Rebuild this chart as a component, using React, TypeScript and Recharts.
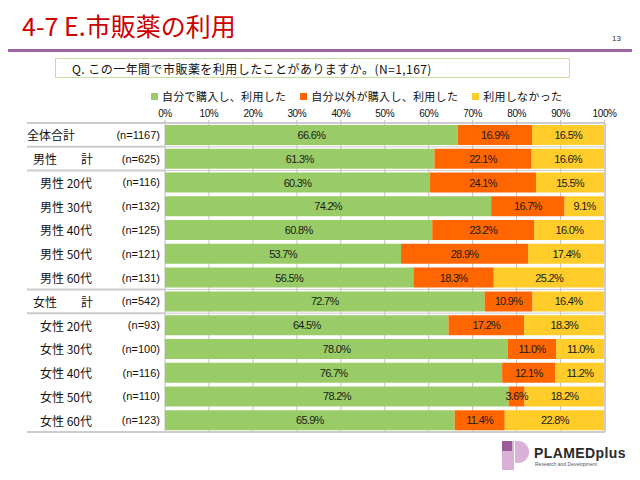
import { BarChart, Bar, XAxis, YAxis, CartesianGrid, LabelList } from 'recharts'

// ── data ──
const categories = [
  '全体合計',
  '男性　　計',
  '男性 20代',
  '男性 30代',
  '男性 40代',
  '男性 50代',
  '男性 60代',
  '女性　　計',
  '女性 20代',
  '女性 30代',
  '女性 40代',
  '女性 50代',
  '女性 60代',
]
const sampleSizes = [1167, 625, 116, 132, 125, 121, 131, 542, 93, 100, 116, 110, 123]
const selfBought = [66.6, 61.3, 60.3, 74.2, 60.8, 53.7, 56.5, 72.7, 64.5, 78.0, 76.7, 78.2, 65.9]
const otherBought = [16.9, 22.1, 24.1, 16.7, 23.2, 28.9, 18.3, 10.9, 17.2, 11.0, 12.1, 3.6, 11.4]
const notUsed = [16.5, 16.6, 15.5, 9.1, 16.0, 17.4, 25.2, 16.4, 18.3, 11.0, 11.2, 18.2, 22.8]
const seriesNames = ['自分で購入し、利用した', '自分以外が購入し、利用した', '利用しなかった']
const percentTicks = [0, 10, 20, 30, 40, 50, 60, 70, 80, 90, 100]

const COLORS = ['#99cc66', '#ff6600', '#ffcc29']
const FRAME = '#cccccc'
const GRID = '#bfbfbf'
const JP = '"Noto Sans CJK JP", "Noto Sans", sans-serif'
const LAT = '"Liberation Sans", Arial, sans-serif'

// layout
const PLOT_TOP = 123
const PLOT_BOTTOM = 432
const PLOT_LEFT = 165
const PLOT_RIGHT = 605
const LABEL_LEFT = 27
const BAND = (PLOT_BOTTOM - PLOT_TOP) / categories.length

const rows = categories.map((name, i) => ({
  name,
  self: selfBought[i],
  other: otherBought[i],
  none: notUsed[i],
}))

function rowKind(name: string) {
  if (name === '全体合計') return 'total'
  if (name.endsWith('計')) return 'subtotal'
  return 'age'
}

function RowTick(props: any) {
  const { y, payload } = props
  const name = payload.value as string
  const i = categories.indexOf(name)
  const kind = rowKind(name)
  const next = categories[i + 1]
  const last = i === categories.length - 1
  const sepBelow = kind !== 'age' || last || (next && rowKind(next) === 'subtotal')
  const nameX = kind === 'total' ? LABEL_LEFT : kind === 'subtotal' ? 33 : 40
  return (
    <g>
      {i === 0 && (
        <line x1={LABEL_LEFT} x2={PLOT_LEFT} y1={y - BAND / 2} y2={y - BAND / 2} stroke={FRAME} strokeWidth={2} />
      )}
      <text x={nameX} y={y} dominantBaseline="central" fontSize={12} fill="#111" style={{ fontFamily: JP }}>
        {name}
      </text>
      <text x={160} y={y} textAnchor="end" dominantBaseline="central" fontSize={11} fill="#111" style={{ fontFamily: LAT }}>
        (n={sampleSizes[i]})
      </text>
      {sepBelow && !last && (
        <line x1={PLOT_LEFT} x2={PLOT_RIGHT} y1={y + BAND / 2} y2={y + BAND / 2} stroke={FRAME} strokeWidth={1} />
      )}
      {sepBelow && (
        <line
          x1={LABEL_LEFT}
          x2={last ? PLOT_RIGHT : PLOT_LEFT}
          y1={y + BAND / 2}
          y2={y + BAND / 2}
          stroke={FRAME}
          strokeWidth={2}
        />
      )}
    </g>
  )
}

function renderValue(props: any) {
  const { x, y, width, height, value } = props
  return (
    <text
      x={Number(x) + Number(width) / 2}
      y={Number(y) + Number(height) / 2}
      textAnchor="middle"
      dominantBaseline="central"
      fontSize={11}
      fill="#1a1a1a"
      style={{ fontFamily: LAT, letterSpacing: '-0.7px' }}
    >
      {Number(value).toFixed(1)}%
    </text>
  )
}

function Logo() {
  return (
    <div style={{ position: 'absolute', left: 502, top: 441 }}>
      <svg width={30} height={31} style={{ position: 'absolute', left: 0, top: 0 }}>
        <rect x={0} y={0} width={12} height={29} fill="#d9b0d6" />
        <path d="M13 0 H16 A11 11 0 0 1 16 22 H13 Z" fill="#d9b0d6" />
        <rect x={0} y={0} width={10} height={10} fill="#9c5a9c" />
      </svg>
      <div
        style={{
          position: 'absolute',
          left: 32,
          top: 5,
          fontFamily: LAT,
          fontWeight: 700,
          fontSize: 14,
          letterSpacing: '0.4px',
          color: '#2a2a2a',
          lineHeight: 1,
          whiteSpace: 'nowrap',
        }}
      >
        PLAMEDplus
      </div>
      <div
        style={{
          position: 'absolute',
          left: 33,
          top: 21,
          fontFamily: LAT,
          fontSize: 5,
          color: '#555',
          lineHeight: 1,
          whiteSpace: 'nowrap',
        }}
      >
        Research and Development
      </div>
    </div>
  )
}

export default function App() {
  return (
    <div style={{ position: 'absolute', left: 0, top: 0, width: 640, height: 480, background: '#fff', overflow: 'hidden' }}>
      {/* ── slide header ── */}
      <div
        style={{
          position: 'absolute',
          left: 22,
          top: 12,
          fontFamily: JP,
          fontSize: 25,
          color: '#cc0000',
          lineHeight: 1.1,
          whiteSpace: 'nowrap',
        }}
      >
        4-7 E.市販薬の利用
      </div>
      <div style={{ position: 'absolute', left: 612, top: 34, fontFamily: LAT, fontSize: 8, color: '#333' }}>13</div>
      <div style={{ position: 'absolute', left: 8, top: 49, width: 624, height: 3, background: '#9c64a3' }} />

      {/* ── question box ── */}
      <div
        style={{
          position: 'absolute',
          left: 55,
          top: 58,
          width: 515,
          height: 20,
          border: '1.5px solid #c3e09e',
          fontFamily: JP,
          fontSize: 12,
          letterSpacing: '0.45px',
          lineHeight: '20px',
          color: '#111',
          paddingLeft: 16,
          boxSizing: 'border-box',
          whiteSpace: 'nowrap',
        }}
      >
        Q. この一年間で市販薬を利用したことがありますか。(N=1,167)
      </div>

      {/* ── legend ── */}
      <div style={{ position: 'absolute', left: 151, top: 89, display: 'flex', gap: 14, whiteSpace: 'nowrap' }}>
        {seriesNames.map((s, i) => (
          <div key={s} style={{ display: 'flex', alignItems: 'center', gap: 4 }}>
            <span style={{ width: 7, height: 7, background: COLORS[i], display: 'inline-block' }} />
            <span style={{ fontFamily: JP, fontSize: 11, letterSpacing: '0.3px', color: '#111', lineHeight: '14px' }}>{s}</span>
          </div>
        ))}
      </div>

      <div style={{ position: 'absolute', left: 0, top: 0 }}>
        <BarChart
          width={640}
          height={480}
          data={rows}
          layout="vertical"
          margin={{ top: PLOT_TOP - 20, right: 640 - PLOT_RIGHT - 1, bottom: 480 - PLOT_BOTTOM - 1, left: LABEL_LEFT - 2 }}
          barCategoryGap={2}
        >
          <CartesianGrid horizontal={false} stroke={GRID} />
          <XAxis
            type="number"
            orientation="top"
            domain={[0, 100]}
            ticks={percentTicks}
            height={20}
            tickFormatter={(v: number) => `${v}%`}
            tick={{ fontSize: 10, fill: '#111', fontFamily: LAT, letterSpacing: '-0.4px' } as any}
            tickSize={3}
            tickMargin={3}
            tickLine={{ stroke: GRID }}
            axisLine={{ stroke: FRAME, strokeWidth: 2 }}
            interval={0}
          />
          <XAxis
            xAxisId="frame"
            type="number"
            orientation="bottom"
            domain={[0, 100]}
            height={1}
            tick={false}
            tickLine={false}
            axisLine={{ stroke: FRAME, strokeWidth: 2 }}
          />
          <YAxis
            type="category"
            dataKey="name"
            width={PLOT_LEFT - LABEL_LEFT + 2}
            tick={(p: any) => <RowTick {...p} />}
            tickLine={false}
            axisLine={false}
            interval={0}
          />
          <YAxis
            yAxisId="frame"
            type="category"
            dataKey="name"
            orientation="right"
            width={1}
            tick={false}
            tickLine={false}
            axisLine={{ stroke: FRAME, strokeWidth: 2 }}
          />
          <Bar dataKey="self" name={seriesNames[0]} stackId="a" fill={COLORS[0]} isAnimationActive={false}>
            <LabelList dataKey="self" content={renderValue} />
          </Bar>
          <Bar dataKey="other" name={seriesNames[1]} stackId="a" fill={COLORS[1]} isAnimationActive={false}>
            <LabelList dataKey="other" content={renderValue} />
          </Bar>
          <Bar dataKey="none" name={seriesNames[2]} stackId="a" fill={COLORS[2]} isAnimationActive={false}>
            <LabelList dataKey="none" content={renderValue} />
          </Bar>
        </BarChart>
      </div>

      <Logo />
    </div>
  )
}
